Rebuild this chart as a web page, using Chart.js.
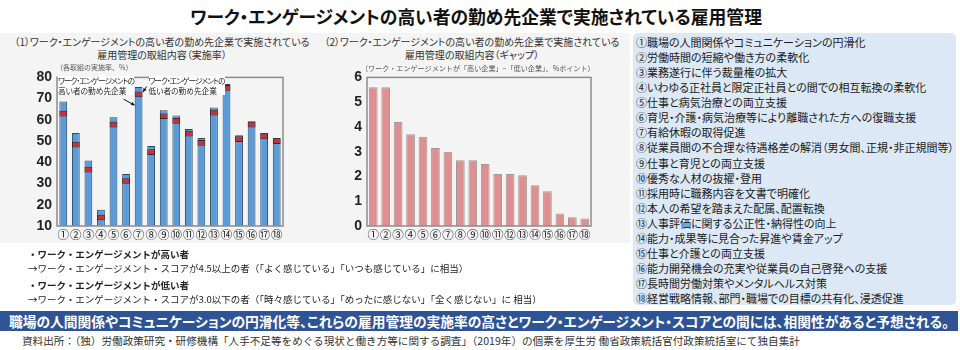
<!DOCTYPE html>
<html>
<head>
<meta charset="utf-8">
<script src="https://cdn.jsdelivr.net/npm/chart.js@4.4.0/dist/chart.umd.min.js"></script>
<style>
body { margin: 0; width: 960px; height: 350px; background: #fff; position: relative; overflow: hidden;
       font-family: "Noto Sans CJK JP", sans-serif; color: #222; }
.t { position: absolute; white-space: nowrap; }
.p { font-feature-settings: "palt"; }
#panel { position: absolute; left: 0; top: 33px; width: 630px; height: 210px; background: #f4f4f4; }
#box { position: absolute; left: 633px; top: 33px; width: 323px; height: 272px; background: #dce8f5;
       border-radius: 5px; font-feature-settings: "palt"; }
#box div { position: absolute; left: 3px; font-size: 11px; line-height: 15px; white-space: nowrap; color: #1a1a1a; }
#banner { position: absolute; left: 0; top: 311px; width: 958px; height: 20px; background: #2e5496; }
canvas { position: absolute; }
.ann { position: absolute; font-size: 7.7px; line-height: 9.5px; background: #fff; color: #222;
       font-feature-settings: "palt"; white-space: nowrap; }
.ann span { letter-spacing: -0.95px; }
</style>
</head>
<body>
<div id="panel"></div>
<div class="t p" style="left:0;width:952px;text-align:center;top:3px;font-size:17.8px;font-weight:bold;line-height:26px;color:#111">ワーク・エンゲージメントの高い者の勤め先企業で実施されている雇用管理</div>

<div class="t p" style="left:12px;width:300px;text-align:center;top:36px;font-size:10px;line-height:12.5px;color:#333">（1）ワーク・エンゲージメントの高い者の勤め先企業で実施されている<br>雇用管理の取組内容（実施率）</div>
<div class="t p" style="left:322px;width:300px;text-align:center;top:36px;font-size:10px;line-height:12.5px;color:#333">（2）ワーク・エンゲージメントの高い者の勤め先企業で実施されている<br>雇用管理の取組内容（ギャップ）</div>

<canvas id="leftChart" width="300" height="185" style="left:0;top:64px"></canvas>
<canvas id="rightChart" width="300" height="185" style="left:310px;top:64px"></canvas>

<div class="t" style="left:56px;top:62px;font-size:7px;line-height:10px;color:#555">（各取組の実施率、%）</div>
<div class="t" style="left:361px;top:63px;font-size:7.1px;line-height:10px;color:#555">（ワーク・エンゲージメントが「高い企業」−「低い企業」、%ポイント）</div>
<div class="ann" style="left:58px;top:76px"><span>ワーク・エンゲージメントの</span><br>高い者の勤め先企業</div>
<div class="ann" style="left:148.5px;top:76px"><span>ワーク・エンゲージメントの</span><br>低い者の勤め先企業</div>

<div id="box"></div>

<div class="t" style="left:28px;top:247px;font-size:9.5px;line-height:14px;font-weight:bold">・ワーク・エンゲージメントが高い者</div>
<div class="t" style="left:28px;top:261px;font-size:9.5px;line-height:14px">→ワーク・エンゲージメント・スコアが4.5以上の者（「よく感じている」「いつも感じている」に相当）</div>
<div class="t" style="left:28px;top:278px;font-size:9.5px;line-height:14px;font-weight:bold">・ワーク・エンゲージメントが低い者</div>
<div class="t" style="left:28px;top:292px;font-size:9.5px;line-height:14px">→ワーク・エンゲージメント・スコアが3.0以下の者（「時々感じている」「めったに感じない」「全く感じない」に 相当）</div>

<div id="banner"></div>
<div class="t p" style="left:0;width:958px;text-align:center;top:311px;font-size:13.75px;line-height:20px;font-weight:bold;color:#fff">職場の人間関係やコミュニケーションの円滑化等、これらの雇用管理の実施率の高さとワーク・エンゲージメント・スコアとの間には、相関性があると予想される。</div>
<div class="t" style="left:22px;top:334px;font-size:10.6px;line-height:14px;color:#333">資料出所：（独）労働政策研究・研修機構「人手不足等をめぐる現状と働き方等に関する調査」（2019年）の個票を厚生労 働省政策統括官付政策統括室にて独自集計</div>

<script>
// categories (same numbering in both panels)
const categories = ['①', '②', '③', '④', '⑤', '⑥', '⑦', '⑧', '⑨', '⑩', '⑪', '⑫', '⑬', '⑭', '⑮', '⑯', '⑰', '⑱'];

// (1) implementation rate, %
const highCompany = [68.6, 53.8, 40.8, 17.7, 61.2, 34.5, 75.5, 47.7, 64.5, 62.0, 55.7, 51.5, 65.8, 76.9, 52.8, 59.4, 53.8, 51.5];
const lowCompany = [62.9, 48.3, 36.6, 14.0, 57.8, 31.2, 72.0, 44.8, 61.7, 59.5, 53.5, 49.2, 63.4, 75.1, 50.9, 57.7, 52.2, 50.0];

// (2) gap, % points
const gapValues = [5.6, 5.6, 4.2, 3.7, 3.6, 3.15, 3.0, 2.65, 2.65, 2.5, 2.1, 2.1, 2.05, 1.65, 1.4, 0.5, 0.35, 0.3];

const leftTicks = [10, 20, 30, 40, 50, 60, 70, 80];
const rightTicks = [0, 1, 2, 3, 4, 5, 6];

const items = [
    '①職場の人間関係やコミュニケーションの円滑化',
    '②労働時間の短縮や働き方の柔軟化',
    '③業務遂行に伴う裁量権の拡大',
    '④いわゆる正社員と限定正社員との間での相互転換の柔軟化',
    '⑤仕事と病気治療との両立支援',
    '⑥育児・介護・病気治療等により離職された方への復職支援',
    '⑦有給休暇の取得促進',
    '⑧従業員間の不合理な待遇格差の解消（男女間、正規・非正規間等）',
    '⑨仕事と育児との両立支援',
    '⑩優秀な人材の抜擢・登用',
    '⑪採用時に職務内容を文書で明確化',
    '⑫本人の希望を踏まえた配属、配置転換',
    '⑬人事評価に関する公正性・納得性の向上',
    '⑭能力・成果等に見合った昇進や賃金アップ',
    '⑮仕事と介護との両立支援',
    '⑯能力開発機会の充実や従業員の自己啓発への支援',
    '⑰長時間労働対策やメンタルヘルス対策',
    '⑱経営戦略情報、部門・職場での目標の共有化、浸透促進'
];

// item list
const box = document.getElementById('box');
items.forEach((txt, i) => {
    const d = document.createElement('div');
    d.textContent = txt;
    d.style.top = (2.2 + i * 15.04) + 'px';
    box.appendChild(d);
});

const markHalf = 1.35;

// grey frame round the plot area
const framePlugin = {
    id: 'frame',
    afterDraw(chart) {
        const a = chart.chartArea, ctx = chart.ctx;
        ctx.save();
        ctx.strokeStyle = '#8c8c8c';
        ctx.lineWidth = 1.5;
        ctx.strokeRect(a.left, a.top, a.right - a.left, a.bottom - a.top);
        ctx.restore();
    }
};

function arrow(ctx, x1, y1, x2, y2) {
    const ang = Math.atan2(y2 - y1, x2 - x1);
    ctx.beginPath();
    ctx.moveTo(x1, y1);
    ctx.lineTo(x2, y2);
    ctx.stroke();
    ctx.beginPath();
    ctx.moveTo(x2, y2);
    ctx.lineTo(x2 - 4 * Math.cos(ang - 0.45), y2 - 4 * Math.sin(ang - 0.45));
    ctx.lineTo(x2 - 4 * Math.cos(ang + 0.45), y2 - 4 * Math.sin(ang + 0.45));
    ctx.closePath();
    ctx.fill();
}

// arrows pointing at bar 7
const arrowPlugin = {
    id: 'arrows',
    afterDatasetsDraw(chart) {
        const ctx = chart.ctx;
        const blue = chart.getDatasetMeta(0).data[6];
        const red = chart.getDatasetMeta(1).data[6];
        const half = blue.width / 2;
        ctx.save();
        ctx.strokeStyle = '#111';
        ctx.fillStyle = '#111';
        ctx.lineWidth = 1;
        arrow(ctx, blue.x - 15, red.base + 2, blue.x - half, red.base + 8);
        arrow(ctx, blue.x + 8, red.y - 5, blue.x + half + 0.5, red.y + 0.5);
        ctx.restore();
    }
};

const fontFamily = '"Noto Sans CJK JP", sans-serif';

function baseOptions(ticks, min, max, padRight, padTop) {
    return {
        responsive: false,
        animation: false,
        layout: { padding: { top: padTop, right: padRight, bottom: 0, left: 0 } },
        plugins: { legend: { display: false }, tooltip: { enabled: false } },
        scales: {
            x: {
                grid: { display: false, drawTicks: false },
                border: { display: false },
                ticks: { autoSkip: false, maxRotation: 0, padding: 2, color: '#222', font: { size: 11.5, family: fontFamily } },
                afterFit: s => { s.height = 23; }
            },
            y: {
                min: min,
                max: max,
                grid: { display: false, drawTicks: false },
                border: { display: false },
                afterBuildTicks: s => { s.ticks = ticks.map(v => ({ value: v })); },
                ticks: { padding: 5, color: '#222', font: { size: 14, weight: 'bold', family: '"Liberation Sans", Arial' } },
                afterFit: s => { s.width = 57; }
            }
        }
    };
}

const leftOpts = baseOptions(leftTicks, 10, 80, 17, 10);
new Chart(document.getElementById('leftChart'), {
    type: 'bar',
    data: {
        labels: categories,
        datasets: [
            {
                label: '高い者の勤め先企業',
                data: highCompany,
                backgroundColor: '#5b9bd8',
                borderColor: '#2b4868',
                borderWidth: 1,
                barPercentage: 0.62,
                categoryPercentage: 1,
                grouped: false,
                order: 1
            },
            {
                label: '低い者の勤め先企業',
                data: lowCompany.map(v => [v - markHalf, v + markHalf]),
                backgroundColor: '#d42b2b',
                borderColor: '#3b2630',
                borderWidth: 1,
                borderSkipped: false,
                barPercentage: 0.62,
                categoryPercentage: 1,
                grouped: false,
                order: 0
            }
        ]
    },
    options: leftOpts,
    plugins: [framePlugin, arrowPlugin]
});

const rightOpts = baseOptions(rightTicks, 0, 6, 19, 11.7);
new Chart(document.getElementById('rightChart'), {
    type: 'bar',
    data: {
        labels: categories,
        datasets: [{
            label: 'ギャップ',
            data: gapValues,
            backgroundColor: '#de9090',
            borderColor: '#9a9a9a',
            borderWidth: 1,
            barPercentage: 0.7,
            categoryPercentage: 1
        }]
    },
    options: rightOpts,
    plugins: [framePlugin]
});
</script>
</body>
</html>
